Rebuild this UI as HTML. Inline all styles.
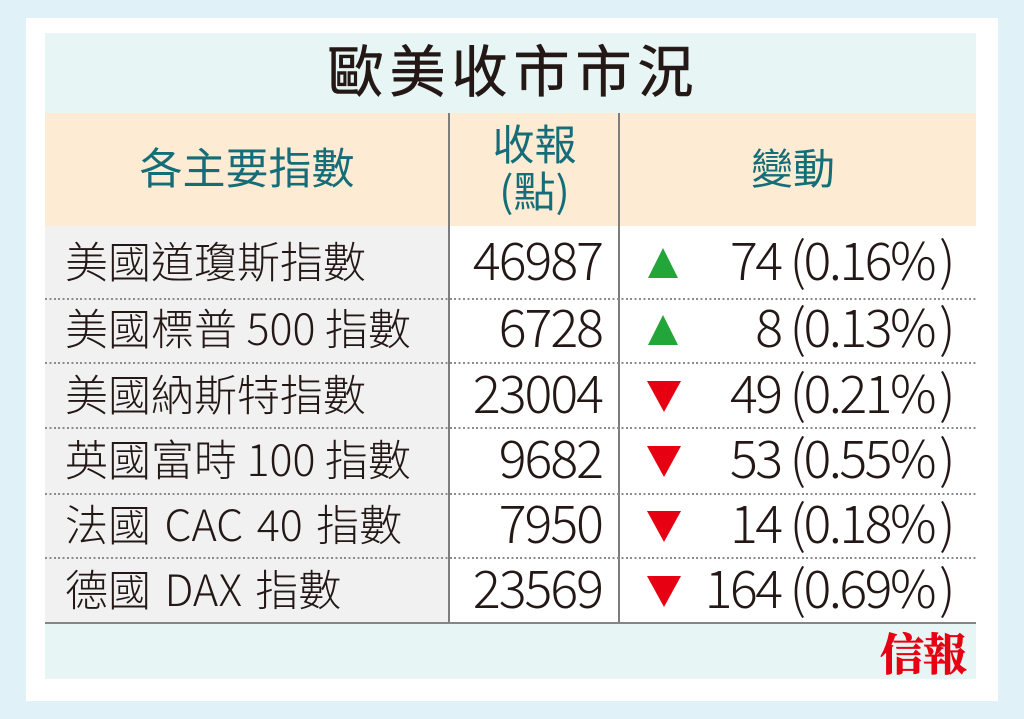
<!DOCTYPE html>
<html>
<head>
<meta charset="utf-8">
<style>
  html,body{margin:0;padding:0;}
  body{width:1024px;height:719px;position:relative;overflow:hidden;background:#e1f1f8;
    font-family:"Liberation Sans","Noto Sans CJK TC","Noto Sans CJK SC",sans-serif;color:#231815;}
  .abs{position:absolute;}
  .frame{left:26px;top:18px;width:972px;height:683px;background:#fff;}
  .title-band{left:45px;top:33px;width:931px;height:80px;background:#e7f5f4;}
  .head-band{left:45px;top:113px;width:931px;height:113px;background:#feebd3;}
  .col1{left:45px;top:226px;width:404px;height:396px;background:#f1f1f1;}
  .footer{left:45px;top:624px;width:931px;height:55px;background:#e7f5f4;}
  .vdiv{top:113px;width:2px;height:509px;background:#7d7d7d;}
  .dot{left:45px;width:931px;height:2px;
    background:repeating-linear-gradient(90deg,#8c8c8c 0 2px,transparent 2px 4.4px);}
  .solid{left:45px;top:622px;width:931px;height:2px;background:#858585;}
  .title{left:45px;top:43px;width:931px;height:60px;line-height:60px;text-align:center;
    font-size:56px;letter-spacing:6px;padding-left:6px;box-sizing:border-box;
    -webkit-text-stroke:0.6px #231815;white-space:nowrap;}
  .teal{color:#156d78;white-space:nowrap;text-align:center;height:60px;line-height:60px;}
  .noto{font-family:"Noto Sans CJK TC","Noto Sans CJK SC",sans-serif;}
  .lbl{left:65px;height:60px;line-height:60px;font-size:43px;white-space:nowrap;font-weight:300;color:#231815;
    font-family:"Noto Sans CJK TC","Noto Sans CJK SC",sans-serif;}
  .num{right:422px;height:60px;line-height:60px;font-size:52px;letter-spacing:-2px;white-space:nowrap;text-align:right;color:#231815;
    font-family:"Noto Sans CJK TC","Noto Sans CJK SC",sans-serif;font-weight:300;}
  .chg{right:71px;height:60px;line-height:60px;font-size:52px;letter-spacing:-2.5px;white-space:nowrap;text-align:right;color:#231815;
    font-family:"Noto Sans CJK TC","Noto Sans CJK SC",sans-serif;font-weight:300;}
  .lp{margin-left:9px;}
  .rp{margin-left:5px;}
  .up{width:0;height:0;border-left:15px solid transparent;border-right:15px solid transparent;border-bottom:30px solid #22a539;left:648px;}
  .down{width:0;height:0;border-left:17px solid transparent;border-right:17px solid transparent;border-top:31px solid #e60012;left:647px;}
  .logo{left:870px;top:621px;width:106px;height:60px;line-height:60px;text-align:center;
    font-family:"Noto Serif CJK SC","Noto Serif CJK TC",serif;font-weight:bold;font-size:44px;color:#e60012;letter-spacing:-1px;
    -webkit-text-stroke:0.8px #e60012;}
</style>
</head>
<body>
  <div class="abs frame"></div>
  <div class="abs title-band"></div>
  <div class="abs head-band"></div>
  <div class="abs col1"></div>
  <div class="abs footer"></div>

  <div class="abs vdiv" style="left:448px;"></div>
  <div class="abs vdiv" style="left:618px;"></div>

  <div class="abs dot" style="top:298px;"></div>
  <div class="abs dot" style="top:362px;"></div>
  <div class="abs dot" style="top:427px;"></div>
  <div class="abs dot" style="top:493px;"></div>
  <div class="abs dot" style="top:557px;"></div>
  <div class="abs solid"></div>

  <div class="abs title">歐美收市市況</div>

  <div class="abs teal" style="left:45px;top:140px;width:404px;font-size:43px;">各主要指數</div>
  <div class="abs teal" style="left:449px;top:116px;width:171px;font-size:42px;">收報</div>
  <div class="abs teal noto" style="left:449px;top:160px;width:171px;font-size:42px;">(點)</div>
  <div class="abs teal" style="left:700px;top:140px;width:186px;font-size:42px;">變動</div>

  <div class="abs lbl" style="top:230px;">美國道瓊斯指數</div>
  <div class="abs lbl" style="top:297px;">美國標普 500 指數</div>
  <div class="abs lbl" style="top:363px;">美國納斯特指數</div>
  <div class="abs lbl" style="top:428px;">英國富時 100 指數</div>
  <div class="abs lbl" style="top:493px;word-spacing:4px;">法國 CAC 40 指數</div>
  <div class="abs lbl" style="top:558px;word-spacing:4px;">德國 DAX 指數</div>

  <div class="abs num" style="top:228px;">46987</div>
  <div class="abs num" style="top:295px;">6728</div>
  <div class="abs num" style="top:361px;">23004</div>
  <div class="abs num" style="top:426px;">9682</div>
  <div class="abs num" style="top:491px;">7950</div>
  <div class="abs num" style="top:556px;">23569</div>

  <div class="abs up" style="top:248px;"></div>
  <div class="abs up" style="top:315px;"></div>
  <div class="abs down" style="top:381px;"></div>
  <div class="abs down" style="top:446px;"></div>
  <div class="abs down" style="top:511px;"></div>
  <div class="abs down" style="top:576px;"></div>

  <div class="abs chg" style="top:228px;">74<span class="lp">(</span>0.16%<span class="rp">)</span></div>
  <div class="abs chg" style="top:295px;">8<span class="lp">(</span>0.13%<span class="rp">)</span></div>
  <div class="abs chg" style="top:361px;">49<span class="lp">(</span>0.21%<span class="rp">)</span></div>
  <div class="abs chg" style="top:426px;">53<span class="lp">(</span>0.55%<span class="rp">)</span></div>
  <div class="abs chg" style="top:491px;">14<span class="lp">(</span>0.18%<span class="rp">)</span></div>
  <div class="abs chg" style="top:556px;">164<span class="lp">(</span>0.69%<span class="rp">)</span></div>

  <div class="abs logo">信報</div>
</body>
</html>
